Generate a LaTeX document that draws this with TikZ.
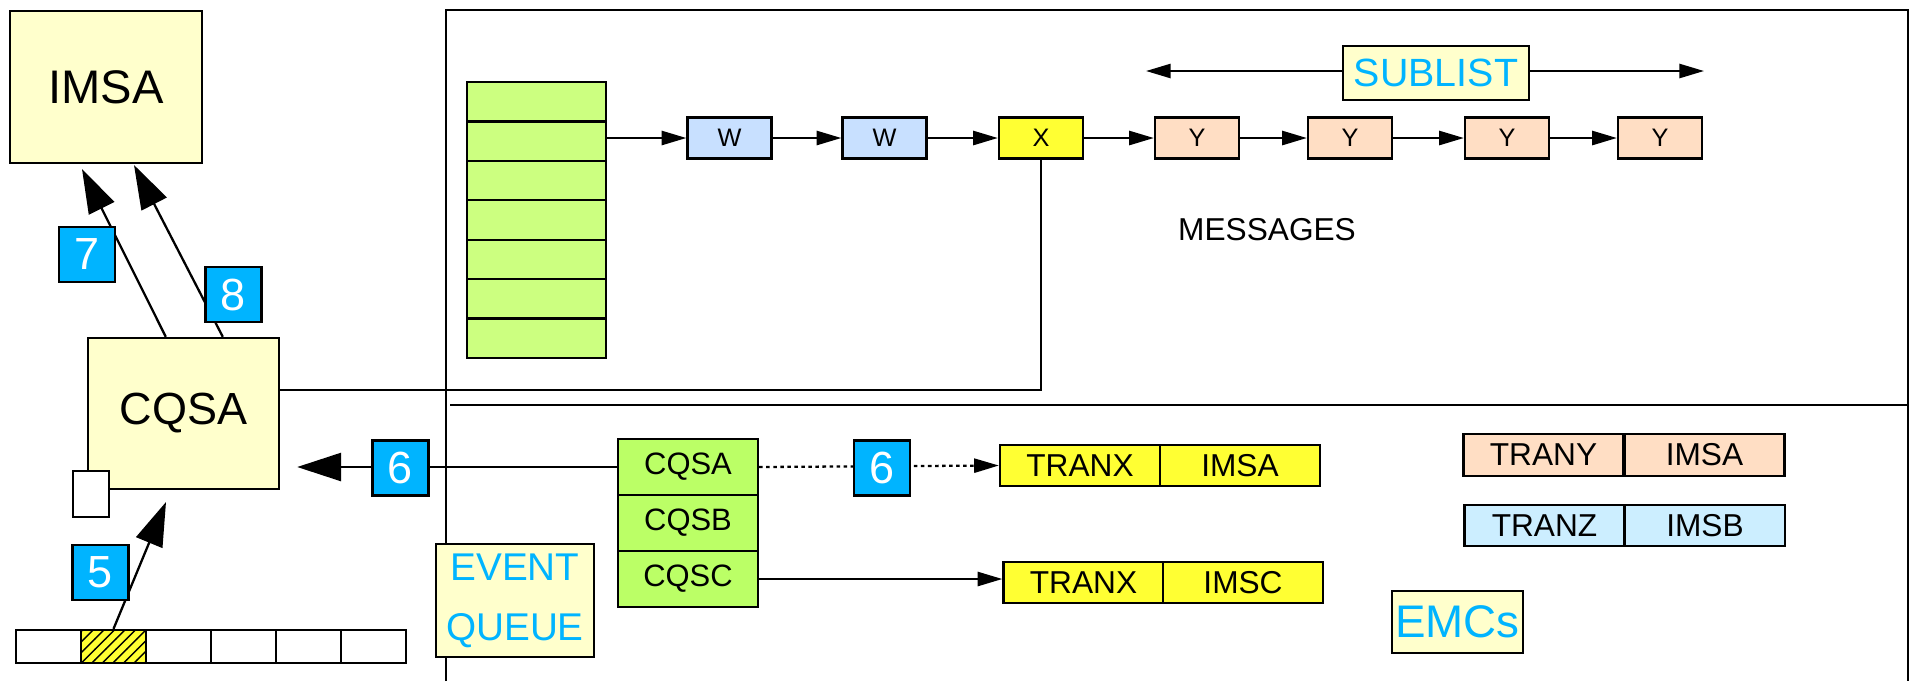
\documentclass[tikz,border=0pt]{standalone}
\usepackage{fontspec}
\setmainfont{Liberation Sans}
\usepackage{tikz}
\usetikzlibrary{arrows.meta,positioning,calc,patterns}
\definecolor{paleyellow}{RGB}{255,255,204}
\definecolor{tagblue}{RGB}{0,180,255}
\definecolor{wblue}{RGB}{200,224,255}
\definecolor{xyellow}{RGB}{255,255,51}
\definecolor{ypeach}{RGB}{255,222,196}
\definecolor{stackgreen}{RGB}{204,255,128}
\definecolor{cqsgreen}{RGB}{187,255,102}
\definecolor{zcyan}{RGB}{204,238,255}
\tikzset{
  box/.style={draw,line width=0.65pt,inner sep=0pt},
  numtag/.style={box,fill=tagblue,text=white,minimum width=0.56cm,minimum height=0.55cm,font=\fontsize{12.8}{13}\selectfont},
  msg/.style={box,minimum width=0.84cm,minimum height=0.41cm,font=\fontsize{7.2}{8}\selectfont},
  cell/.style={box,minimum width=1.60cm,minimum height=0.41cm,font=\fontsize{9}{10}\selectfont},
  note/.style={box,fill=paleyellow,text=tagblue},
  bigarrow/.style={-{Triangle[length=12.5pt,width=8pt]},line width=0.65pt},
  smallarrow/.style={-{Triangle[length=7pt,width=4pt]},line width=0.65pt}
}
\begin{document}
\begin{tikzpicture}[x=0.01cm,y=-0.01cm,line width=0.65pt]
\useasboundingbox (0,0) rectangle (1918,681);
% outer frame, open at the bottom
\draw (446,681) |- (1908,10) -- (1908,681);
\draw (450,405) -- (1908,405);
% left side
\node[box,fill=paleyellow,minimum width=1.92cm,minimum height=1.52cm,font=\fontsize{13.4}{14}\selectfont] (imsa) at (106,87) {IMSA};
\node[box,fill=paleyellow,minimum width=1.91cm,minimum height=1.51cm,font=\fontsize{12.8}{14}\selectfont] (cqsa) at (183.5,413.5) {CQSA};
\node[box,fill=white,minimum width=0.36cm,minimum height=0.46cm] (slot) at (91,494) {};
\foreach \i in {1,...,6}
  \node[box,fill=white,minimum width=0.65cm,minimum height=0.33cm] (s\i) at ({16+65*(\i-0.5)},646.5) {};
\node[box,fill=xyellow,postaction={pattern=north east lines},minimum width=0.65cm,minimum height=0.33cm] (s2) at (113.5,646.5) {};
\coordinate (tip5) at (166,502);
\coordinate (tip7) at (82,169);
\coordinate (tip8) at (134,165);
\draw[bigarrow] ($(cqsa.north west)+(79,0)$) -- (tip7);
\draw[bigarrow] ($(cqsa.north west)+(136,0)$) -- (tip8);
\draw[bigarrow] (s2.north) -- (tip5);
% message queue
\foreach \i in {1,...,7}
  \node[box,fill=stackgreen,minimum width=1.39cm,minimum height=0.394cm] (g\i) at (536.5,{82+39.43*(\i-0.5)}) {};
\foreach \n/\cx/\c/\t in {w1/729.5/wblue/W,w2/884.5/wblue/W,x/1041/xyellow/X,
                          y1/1197/ypeach/Y,y2/1350/ypeach/Y,y3/1507/ypeach/Y,y4/1660/ypeach/Y}
  \node[msg,fill=\c] (\n) at (\cx,138) {\t};
\draw[smallarrow] (w1.west -| g2.east) -- (w1.west);
\foreach \a/\b in {w1/w2,w2/x,x/y1,y1/y2,y2/y3,y3/y4}
  \draw[smallarrow] (\a) -- (\b);
\draw (x.south) |- ($(cqsa.north east)+(0,53)$);
\node[note,minimum width=1.86cm,minimum height=0.54cm,font=\fontsize{11.2}{12}\selectfont] (sublist) at (1436,73) {SUBLIST};
\coordinate (subl) at (1146,71);
\coordinate (subr) at (1704,71);
\draw[smallarrow] (sublist.west |- subl) -- (subl);
\draw[smallarrow] (sublist.east |- subr) -- (subr);
\node[font=\fontsize{9}{10}\selectfont] (messages) at (1267,230) {MESSAGES};
% event queue
\node[note,minimum width=1.58cm,minimum height=1.13cm,align=center,font=\fontsize{11}{17}\selectfont] (evq) at (515,600.5) {EVENT\\QUEUE};
\foreach \n/\cy/\t in {cqsA/467/CQSA,cqsB/523/CQSB,cqsC/579/CQSC}
  \node[box,fill=cqsgreen,minimum width=1.40cm,minimum height=0.56cm,font=\fontsize{8.8}{10}\selectfont] (\n) at (688,\cy) {\t};
\node[cell,fill=xyellow] (tranx1) at (1080,465.5) {TRANX};
\node[cell,fill=xyellow] (imsa1) at (1240,465.5) {IMSA};
\node[cell,fill=xyellow] (tranx2) at (1083.5,582.5) {TRANX};
\node[cell,fill=xyellow] (imsc) at (1243,582.5) {IMSC};
\node[cell,fill=ypeach,minimum height=0.42cm] (trany) at (1543.5,455) {TRANY};
\node[cell,fill=ypeach,minimum height=0.42cm] (imsa2) at (1704.5,455) {IMSA};
\node[cell,fill=zcyan] (tranz) at (1544.5,525.5) {TRANZ};
\node[cell,fill=zcyan] (imsb) at (1705,525.5) {IMSB};
\node[note,minimum width=1.31cm,minimum height=0.62cm,font=\fontsize{13}{14}\selectfont] (emcs) at (1457.5,622) {EMCs};
\draw[bigarrow,shorten >=0.17cm] (cqsA.west) -- (cqsA.west -| cqsa.east);
\draw[smallarrow,dash pattern=on 1pt off 1pt] (cqsA.east) -- (tranx1.west);
\draw[smallarrow] (cqsC.east) -- (cqsC.east -| tranx2.west);
% step tags
\node[numtag] (t7) at (87,254.5) {7};
\node[numtag] (t8) at (233.5,294.5) {8};
\node[numtag] (t5) at (100.5,572.5) {5};
\node[numtag] (t6a) at (400.5,468) {6};
\node[numtag] (t6b) at (882,468) {6};
\end{tikzpicture}
\end{document}
